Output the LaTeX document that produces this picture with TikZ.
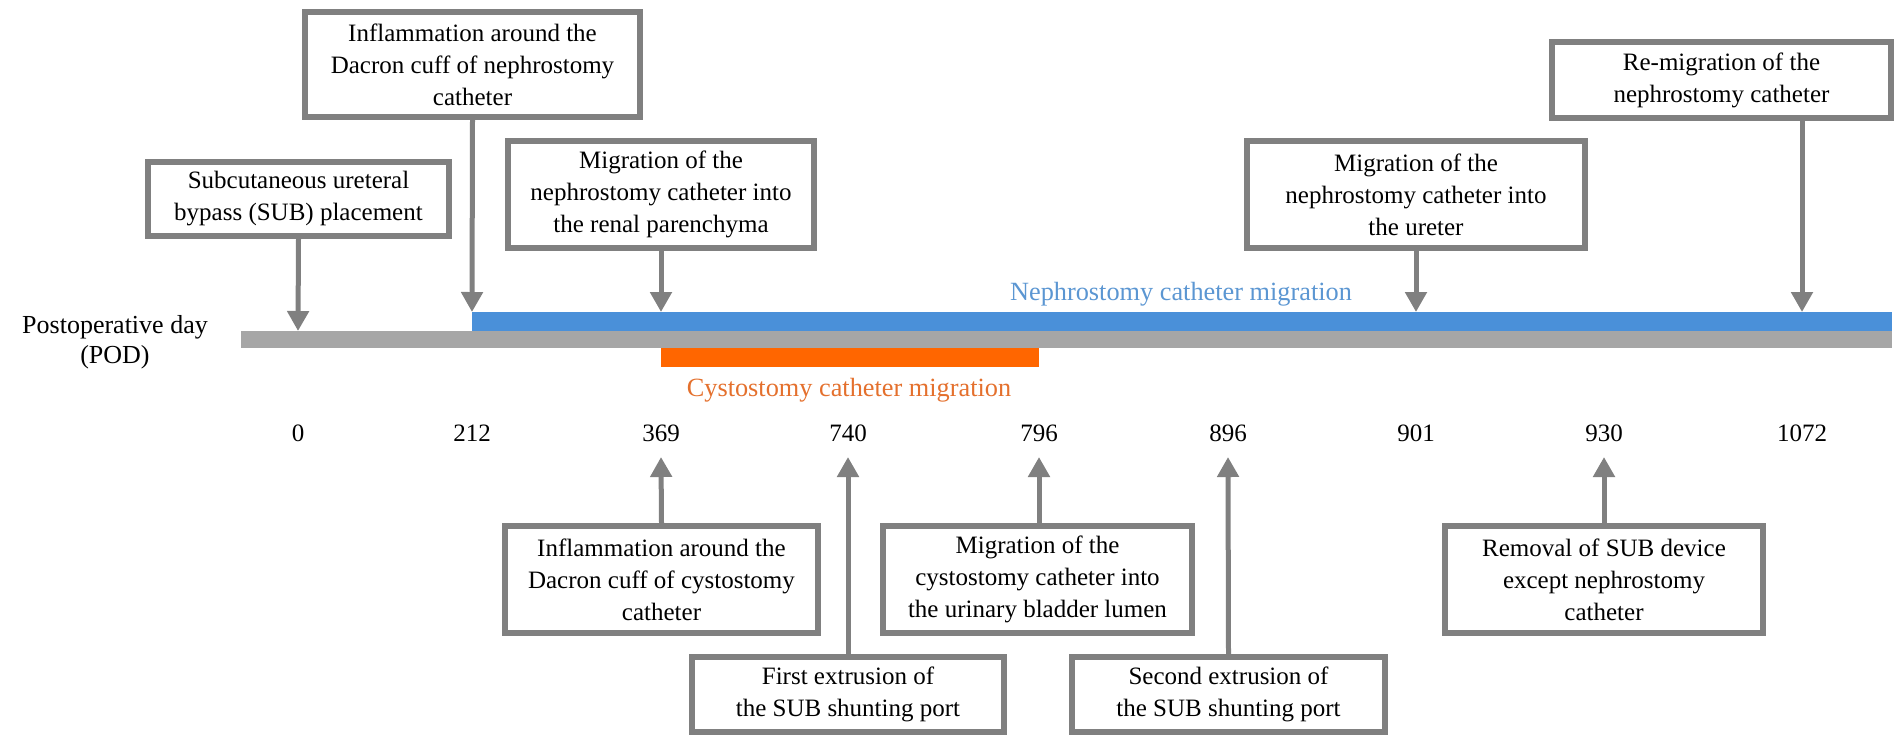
\documentclass[tikz,border=0pt]{standalone}
\usepackage{fontspec}
\setmainfont{Liberation Serif}
\newfontfamily\timesfont{Liberation Serif}
\usetikzlibrary{arrows.meta}

\definecolor{framegray}{RGB}{128,128,128}
\definecolor{axisgray}{RGB}{166,166,166}
\definecolor{nephblue}{RGB}{74,144,217}
\definecolor{nephtext}{RGB}{91,150,210}
\definecolor{cystorange}{RGB}{255,102,0}
\definecolor{cysttext}{RGB}{228,112,45}

\tikzset{
	event/.style={draw=framegray, line width=6pt, fill=white, align=center, inner sep=0pt, font=\timesfont\fontsize{25}{32}\selectfont},
	pointer/.style={draw=framegray, line width=5pt, -{Triangle[width=21pt,length=20pt]}},
	daynum/.style={font=\timesfont\fontsize{25}{30}\selectfont},
	barlabel/.style={font=\timesfont\fontsize{26.3}{30}\selectfont},
}

\begin{document}
\begin{tikzpicture}[x=1pt, y=-1pt]
	\useasboundingbox (0,0) rectangle (1901,748);

	% timeline bars
	\fill[axisgray] (241,331) rectangle (1892,348);
	\fill[nephblue] (472,312) rectangle (1892,331);
	\fill[cystorange] (661,348) rectangle (1039,367);

	\node[daynum, font=\timesfont\fontsize{26}{30}\selectfont, align=center] (pod) at (115,342) {Postoperative day\\(POD)};
	\node[barlabel, text=nephtext] (nephlab) at (1181,294) {Nephrostomy catheter migration};
	\node[barlabel, text=cysttext] (cystlab) at (849,390) {Cystostomy catheter migration};

	% day numbers
	\foreach \x/\d in {298/0, 472/212, 661/369, 848/740, 1039/796, 1228/896, 1416/901, 1604/930, 1802/1072}
		\node[daynum] (n\d) at (\x,433) {\d};

	% arrow ends on the bars and under the numbers
	\coordinate (a0) at (298,331);
	\coordinate (a212) at (472,312);
	\coordinate (a369) at (661,312);
	\coordinate (a901) at (1416,312);
	\coordinate (a1072) at (1802,312);
	\coordinate (b369) at (661,457);
	\coordinate (b740) at (848,457);
	\coordinate (b796) at (1039,457);
	\coordinate (b896) at (1228,457);
	\coordinate (b930) at (1604,457);

	% events above the line
	\node[event, minimum width=301pt, minimum height=74pt] (sub) at (298.5,199) {Subcutaneous ureteral\\bypass (SUB) placement};
	\node[event, minimum width=335pt, minimum height=105pt] (inflneph) at (472.5,64.5) {Inflammation around the\\Dacron cuff of nephrostomy\\catheter};
	\node[event, minimum width=306pt, minimum height=107pt] (migparen) at (661,194.5) {Migration of the\\nephrostomy catheter into\\the renal parenchyma};
	\node[event, minimum width=338pt, minimum height=107pt] (migureter) at (1416,194.5) {Migration of the\\nephrostomy catheter into\\the ureter};
	\node[event, minimum width=339pt, minimum height=76pt] (remig) at (1721.5,80) {Re-migration of the\\nephrostomy catheter};

	% events below the line
	\node[event, minimum width=313pt, minimum height=107pt] (inflcyst) at (661.5,579.5) {Inflammation around the\\Dacron cuff of cystostomy\\catheter};
	\node[event, minimum width=312pt, minimum height=75pt] (firstext) at (848,694.5) {First extrusion of\\the SUB shunting port};
	\node[event, minimum width=309pt, minimum height=107pt] (migcyst) at (1037.5,579.5) {Migration of the\\cystostomy catheter into\\the urinary bladder lumen};
	\node[event, minimum width=313pt, minimum height=75pt] (secondext) at (1228.5,694.5) {Second extrusion of\\the SUB shunting port};
	\node[event, minimum width=318pt, minimum height=107pt] (removal) at (1604,579.5) {Removal of SUB device\\except nephrostomy\\catheter};

	\draw[pointer] (sub.south) -- (a0);
	\draw[pointer] (inflneph.south) -- (a212);
	\draw[pointer] (migparen.south) -- (a369);
	\draw[pointer] (migureter.south) -- (a901);
	\draw[pointer] (remig.south -| a1072) -- (a1072);

	\draw[pointer] (inflcyst.north) -- (b369);
	\draw[pointer] (firstext.north) -- (b740);
	\draw[pointer] (migcyst.north -| b796) -- (b796);
	\draw[pointer] (secondext.north) -- (b896);
	\draw[pointer] (removal.north) -- (b930);
\end{tikzpicture}
\end{document}
